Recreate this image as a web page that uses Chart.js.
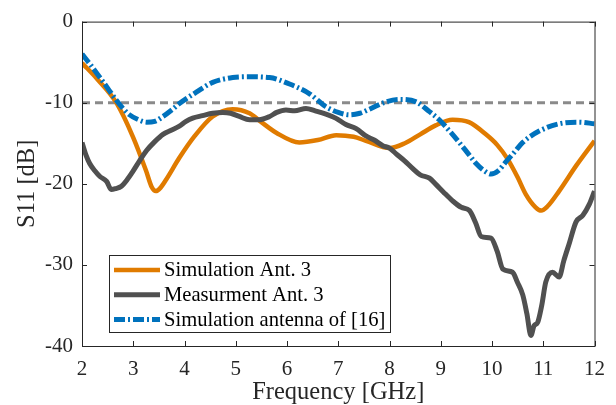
<!DOCTYPE html>
<html>
<head>
<meta charset="utf-8">
<script src="https://cdn.jsdelivr.net/npm/chart.js@4.4.0/dist/chart.umd.min.js"></script>
<style>
  html, body { margin: 0; padding: 0; background: #fff; }
</style>
</head>
<body>
<canvas id="s11Chart" width="616" height="405"></canvas>
<script>
// Tick values
const xTicks = [2, 3, 4, 5, 6, 7, 8, 9, 10, 11, 12];
const yTicks = [0, -10, -20, -30, -40];

// Simulation Ant. 3 (orange)
const simFreq = [2.0, 2.3, 2.67, 3.0, 3.25, 3.36, 3.44, 3.53, 3.65, 3.9, 4.2, 4.55, 4.94, 5.27, 5.5, 5.79, 6.24, 6.6, 6.96, 7.3, 7.54, 8.0, 8.3, 8.6, 8.9, 9.23, 9.55, 9.88, 10.1, 10.3, 10.5, 10.66, 10.85, 10.96, 11.08, 11.31, 11.65, 12.0];
const simS11 = [-5.1, -7.1, -10, -14.3, -18.4, -20.4, -20.9, -20.5, -19.4, -16.8, -14.1, -11.7, -10.8, -11.3, -12.4, -13.7, -14.9, -14.6, -14.0, -14.2, -14.7, -15.6, -15.0, -13.9, -12.8, -12.1, -12.4, -13.9, -15.2, -16.9, -19.2, -21.3, -22.9, -23.3, -22.8, -20.9, -17.7, -14.7];

// Measurment Ant. 3 (dark gray)
const measFreq = [2.0, 2.08, 2.15, 2.25, 2.35, 2.48, 2.57, 2.65, 2.77, 2.88, 2.99, 3.12, 3.26, 3.42, 3.58, 3.74, 3.9, 4.03, 4.16, 4.35, 4.55, 4.75, 4.9, 5.07, 5.27, 5.45, 5.66, 5.8, 5.98, 6.15, 6.37, 6.55, 6.76, 6.95, 7.15, 7.35, 7.54, 7.7, 7.87, 8.0, 8.13, 8.3, 8.45, 8.6, 8.78, 8.91, 9.05, 9.23, 9.4, 9.56, 9.68, 9.79, 9.98, 10.1, 10.21, 10.4, 10.5, 10.6, 10.68, 10.76, 10.82, 10.89, 10.97, 11.05, 11.18, 11.31, 11.4, 11.51, 11.64, 11.77, 11.9, 12.0];
const measS11 = [-14.9, -16.5, -17.5, -18.4, -19.1, -19.7, -20.7, -20.6, -20.3, -19.5, -18.5, -17.2, -15.9, -14.8, -13.9, -13.4, -12.9, -12.3, -11.9, -11.6, -11.3, -11.2, -11.3, -11.7, -12.1, -12.1, -11.7, -11.2, -10.9, -11.0, -10.7, -11.0, -11.4, -11.9, -12.7, -13.2, -14.1, -14.6, -15.3, -15.6, -16.3, -17.2, -18.1, -18.9, -19.3, -20.1, -21.0, -22.1, -22.9, -23.3, -24.8, -26.5, -26.7, -28.3, -30.5, -30.9, -32.2, -33.7, -36.0, -38.7, -37.5, -37.1, -35.0, -32.1, -30.9, -31.5, -29.5, -27.3, -24.7, -23.9, -22.5, -20.9];

// Simulation antenna of [16] (blue dash-dot)
const refFreq = [2.0, 2.15, 2.35, 2.5, 2.67, 2.8, 2.93, 3.1, 3.26, 3.42, 3.58, 3.75, 3.9, 4.23, 4.55, 4.94, 5.27, 5.66, 6.05, 6.44, 6.76, 7.0, 7.22, 7.42, 7.61, 7.93, 8.19, 8.52, 8.78, 8.97, 9.2, 9.36, 9.55, 9.69, 9.85, 9.98, 10.12, 10.27, 10.45, 10.6, 10.92, 11.31, 11.7, 12.0];
const refS11 = [-4.0, -5.2, -6.9, -8.2, -9.7, -10.7, -11.5, -12.1, -12.4, -12.3, -11.7, -10.9, -10.1, -8.7, -7.5, -6.9, -6.8, -6.9, -7.7, -8.9, -10.5, -11.2, -11.5, -11.3, -10.8, -9.9, -9.6, -9.9, -11.1, -12.1, -13.7, -14.9, -16.4, -17.5, -18.4, -18.8, -18.4, -17.3, -16.0, -14.9, -13.5, -12.6, -12.4, -12.6];

// -10 dB threshold
const limitFreq = [2, 12];
const limitS11 = [-10, -10];

const FONT = "'Liberation Serif', 'Times New Roman', serif";
Chart.defaults.font.family = FONT;
Chart.defaults.color = "#262626";

const toPoints = (xs, ys) => xs.map((x, i) => ({ x: x, y: ys[i] }));

// Box + inward ticks on all four sides
const axesBox = {
    id: "axesBox",
    afterDatasetsDraw(chart) {
        const { ctx, chartArea: a, scales: { x, y } } = chart;
        ctx.save();
        ctx.strokeStyle = "#262626";
        ctx.lineWidth = 1;
        ctx.strokeRect(a.left + 0.5, a.top + 0.5, a.right - a.left, a.bottom - a.top);
        ctx.beginPath();
        xTicks.forEach(v => {
            const px = Math.round(x.getPixelForValue(v)) + 0.5;
            ctx.moveTo(px, a.bottom); ctx.lineTo(px, a.bottom - 5);
            ctx.moveTo(px, a.top); ctx.lineTo(px, a.top + 5);
        });
        yTicks.forEach(v => {
            const py = Math.round(y.getPixelForValue(v)) + 0.5;
            ctx.moveTo(a.left, py); ctx.lineTo(a.left + 5, py);
            ctx.moveTo(a.right, py); ctx.lineTo(a.right - 5, py);
        });
        ctx.stroke();
        ctx.restore();
    }
};

// Legend box inside the plot, lower left
const boxLegend = {
    id: "boxLegend",
    afterDraw(chart) {
        const { ctx, chartArea: a } = chart;
        const items = chart.data.datasets.filter(d => d.inLegend);
        const left = a.left + 27, top = a.bottom - 91, w = 281, h = 77;
        ctx.save();
        ctx.fillStyle = "#fff";
        ctx.fillRect(left, top, w, h);
        ctx.strokeStyle = "#262626";
        ctx.lineWidth = 1;
        ctx.strokeRect(left + 0.5, top + 0.5, w, h);
        ctx.font = "20.6px " + FONT;
        ctx.textBaseline = "middle";
        items.forEach((d, i) => {
            const cy = top + 15 + i * 24.7;
            ctx.beginPath();
            ctx.strokeStyle = d.borderColor;
            ctx.lineWidth = d.borderWidth;
            ctx.lineCap = "butt";
            ctx.setLineDash(d.borderDash || []);
            ctx.moveTo(left + 5, cy);
            ctx.lineTo(left + 51, cy);
            ctx.stroke();
            ctx.setLineDash([]);
            ctx.fillStyle = "#000";
            ctx.fillText(d.label, left + 55, cy + 1);
        });
        ctx.restore();
    }
};

const ctx = document.getElementById("s11Chart").getContext("2d");
new Chart(ctx, {
    type: "line",
    data: {
        datasets: [
            {
                label: "Simulation Ant. 3",
                data: toPoints(simFreq, simS11),
                borderColor: "#E07B00",
                borderWidth: 4.5,
                cubicInterpolationMode: "monotone",
                inLegend: true,
                order: 2
            },
            {
                label: "Measurment Ant. 3",
                data: toPoints(measFreq, measS11),
                borderColor: "#505050",
                borderWidth: 5,
                cubicInterpolationMode: "monotone",
                inLegend: true,
                order: 1
            },
            {
                label: "Simulation antenna of [16]",
                data: toPoints(refFreq, refS11),
                borderColor: "#0072BD",
                borderWidth: 5,
                borderDash: [11, 3, 2, 3],
                borderCapStyle: "butt",
                cubicInterpolationMode: "monotone",
                inLegend: true,
                order: 0
            },
            {
                label: "-10 dB",
                data: toPoints(limitFreq, limitS11),
                borderColor: "#8A8A8A",
                borderWidth: 3,
                borderDash: [8, 5],
                inLegend: false,
                order: 3
            }
        ]
    },
    options: {
        responsive: false,
        animation: false,
        layout: { padding: { top: 13, right: 20, left: 0, bottom: 0 } },
        elements: { point: { radius: 0 }, line: { borderJoinStyle: "round", fill: false } },
        plugins: { legend: { display: false }, tooltip: { enabled: false } },
        scales: {
            x: {
                type: "linear",
                min: 2,
                max: 12,
                grid: { display: false, drawTicks: false },
                border: { display: false },
                ticks: { stepSize: 1, padding: 11, font: { size: 21 }, maxRotation: 0 },
                title: { display: true, text: "Frequency [GHz]", font: { size: 24.5, lineHeight: 1 }, padding: { top: 0, bottom: 0 } },
                afterFit: s => { s.height = 59; }
            },
            y: {
                min: -40,
                max: 0,
                grid: { display: false, drawTicks: false },
                border: { display: false },
                ticks: { stepSize: 10, padding: 9, font: { size: 21 } },
                title: { display: true, text: "S11 [dB]", font: { size: 24.5, lineHeight: 1 }, padding: { top: 15, bottom: 0 } },
                afterFit: s => { s.width = 82; }
            }
        }
    },
    plugins: [axesBox, boxLegend]
});
</script>
</body>
</html>
